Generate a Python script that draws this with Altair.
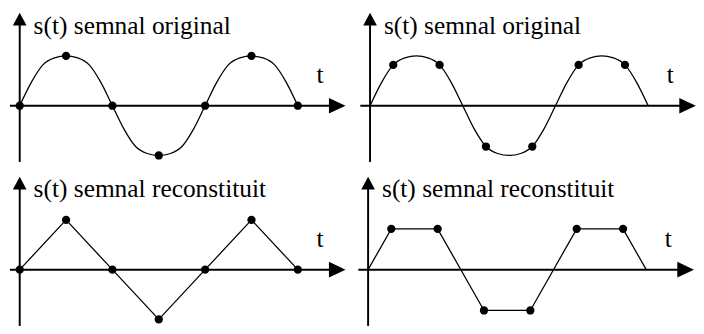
import altair as alt
import pandas as pd

# time in 1/8-period units, curve read every 1/16 period
curve_t = [0, 0.5, 1, 1.5, 2, 2.5, 3, 3.5, 4, 4.5, 5, 5.5, 6, 6.5, 7, 7.5, 8,
           8.5, 9, 9.5, 10, 10.5, 11, 11.5, 12]
curve_s = [0, 0.47, 0.82, 0.96, 1, 0.96, 0.82, 0.47, 0, -0.47, -0.82, -0.96, -1,
           -0.96, -0.82, -0.47, 0, 0.47, 0.82, 0.96, 1, 0.96, 0.82, 0.47, 0]

left_pts_t = [0, 2, 4, 6, 8, 10, 12]
left_pts_s = [0, 1, 0, -1, 0, 1, 0]

right_pts_t = [1, 3, 5, 7, 9, 11]
right_pts_s = [0.82, 0.82, -0.82, -0.82, 0.82, 0.82]

right_line_t = [0, 1, 3, 5, 7, 9, 11, 12]
right_line_s = [0, 0.82, 0.82, -0.82, -0.82, 0.82, 0.82, 0]

titles = ["s(t) semnal original", "s(t) semnal reconstituit"]
axis_label = "t"

W, H = 352, 167
UNIT_X = 23.75
UNIT_Y = 51.0
FONT = "Times New Roman"

ARROW_RIGHT = "M-1,-0.94L1,0L-1,0.94Z"
ARROW_UP = "M0,-1L-1.077,1L1.077,1Z"


def panel(line_t, line_s, pt_t, pt_s, title, x0px, y0px, interp):
    xs = alt.Scale(domain=[-x0px / UNIT_X, (W - x0px) / UNIT_X], nice=False, zero=False)
    ys = alt.Scale(domain=[-(H - y0px) / UNIT_Y, y0px / UNIT_Y], nice=False, zero=False)

    def X(v):
        return alt.XDatum(v, type="quantitative", scale=xs, axis=None)

    def Y(v):
        return alt.YDatum(v, type="quantitative", scale=ys, axis=None)

    line_df = pd.DataFrame({"t": line_t, "s": line_s})
    pts_df = pd.DataFrame({"t": pt_t, "s": pt_s})

    xaxis = alt.Chart().mark_rule(color="black", strokeWidth=2).encode(
        x=X(-0.42), x2=alt.X2Datum(13.7), y=Y(0))
    yaxis = alt.Chart().mark_rule(color="black", strokeWidth=2).encode(
        x=X(0), y=Y(-1.13), y2=alt.Y2Datum(1.74))
    arr_r = alt.Chart().mark_point(shape=ARROW_RIGHT, filled=True, size=289,
                                   color="black", opacity=1, strokeWidth=0).encode(
        x=X(13.7), y=Y(0))
    arr_u = alt.Chart().mark_point(shape=ARROW_UP, filled=True, size=169,
                                   color="black", opacity=1, strokeWidth=0).encode(
        x=X(0), y=Y(1.74))
    curve = alt.Chart(line_df).mark_line(color="black", strokeWidth=1.3,
                                         interpolate=interp).encode(
        x=alt.X("t:Q", scale=xs, axis=None), y=alt.Y("s:Q", scale=ys, axis=None),
        order="t:Q")
    dots = alt.Chart(pts_df).mark_circle(color="black", size=72, opacity=1).encode(
        x=alt.X("t:Q", scale=xs, axis=None), y=alt.Y("s:Q", scale=ys, axis=None))
    ttl = alt.Chart().mark_text(text=title, align="left", baseline="alphabetic",
                                fontSize=26, color="black").encode(
        x=X(0.6), y=Y(1.45))
    tl = alt.Chart().mark_text(text=axis_label, align="left", baseline="alphabetic",
                               fontSize=26, color="black").encode(
        x=X(12.8), y=Y(0.46))
    return alt.layer(xaxis, yaxis, curve, dots, arr_r, arr_u, ttl, tl).properties(
        width=W, height=H)


p1 = panel(curve_t, curve_s, left_pts_t, left_pts_s, titles[0], 12, 96, "monotone")
p2 = panel(curve_t, curve_s, right_pts_t, right_pts_s, titles[0], 19, 96, "monotone")
p3 = panel(left_pts_t, left_pts_s, left_pts_t, left_pts_s, titles[1], 12, 97, "linear")
p4 = panel(right_line_t, right_line_s, right_pts_t, right_pts_s, titles[1], 17, 97, "linear")

chart = alt.concat(p1, p2, p3, p4, columns=2, spacing=0, bounds="flush"
                   ).configure_view(stroke=None).configure_text(font=FONT
                   ).properties(padding=0, background="white")

chart.save("out.html", embed_options={"renderer": "svg", "actions": False})
